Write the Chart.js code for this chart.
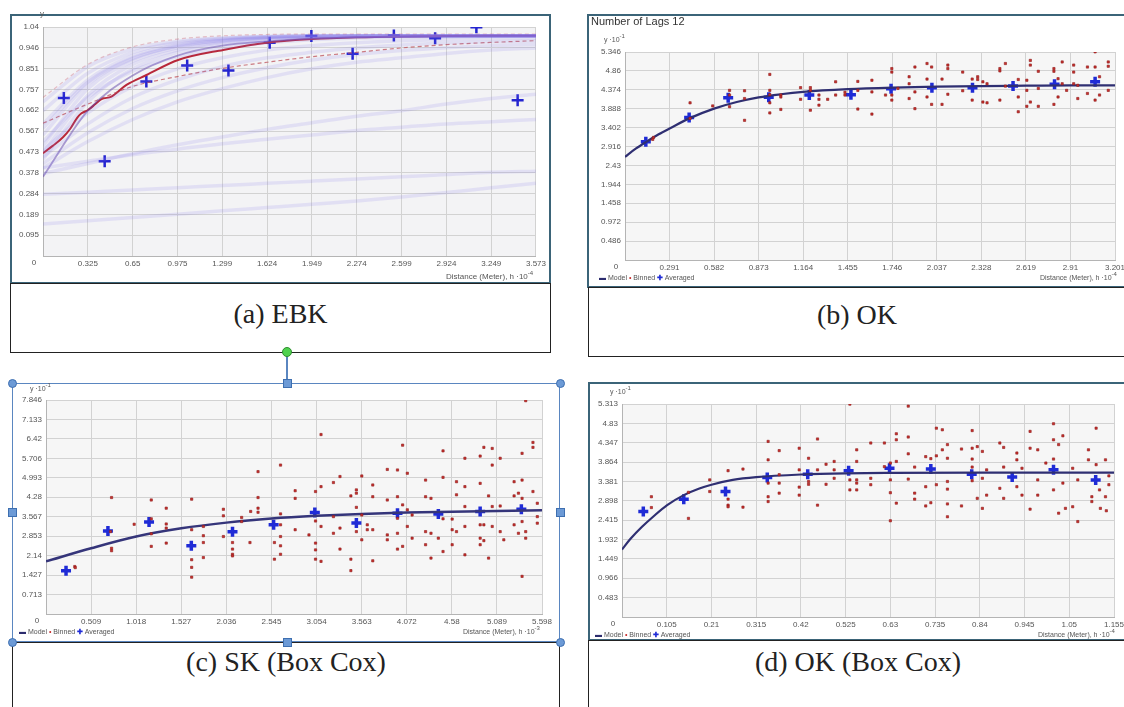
<!DOCTYPE html>
<html><head><meta charset="utf-8">
<script src="https://cdn.jsdelivr.net/npm/chart.js@4.4.1/dist/chart.umd.min.js"></script>
<style>
html,body{margin:0;padding:0;background:#fff;width:1124px;height:707px;overflow:hidden;position:relative;font-family:"Liberation Sans",Arial,sans-serif;}
canvas{position:absolute;}
.frame{position:absolute;box-sizing:border-box;border:2px solid #3b6478;}
.cap{position:absolute;box-sizing:border-box;border:1px solid #222;background:#fff;}
.capt{position:absolute;left:0;right:0;text-align:center;font-family:"Liberation Serif","Times New Roman",serif;font-size:28px;line-height:31px;color:#222;}
.lbl{position:absolute;font-size:8px;line-height:10px;color:#555;white-space:nowrap;}
.lbl sup{font-size:6px;vertical-align:4px;line-height:0;}
.title{position:absolute;font-size:11px;color:#333;white-space:nowrap;}
.hc{position:absolute;width:9px;height:9px;border-radius:50%;background:#6c9ad6;border:1px solid #3e6fb0;box-sizing:border-box;}
.hs{position:absolute;width:9px;height:9px;background:#6c9ad6;border:1px solid #3e6fb0;box-sizing:border-box;}
</style></head>
<body>
<!-- frames and captions -->
<div class="frame" style="left:10px;top:14px;width:541px;height:270px;"></div>
<div class="cap" style="left:10px;top:283px;width:541px;height:70px;"><div class="capt" style="top:14px;">(a) EBK</div></div>

<div class="frame" style="left:587px;top:14px;width:545px;height:274px;"></div>
<div class="cap" style="left:588px;top:287px;width:538px;height:70px;"><div class="capt" style="top:11px;">(b) OK</div></div>

<div style="position:absolute;left:12px;top:383px;width:548px;height:259px;box-sizing:border-box;border:1.5px solid #5a86c0;"></div>
<div class="cap" style="left:12px;top:642px;width:548px;height:80px;"><div class="capt" style="top:3px;">(c) SK (Box Cox)</div></div>

<div class="frame" style="left:588px;top:382px;width:545px;height:259px;"></div>
<div class="cap" style="left:588px;top:640px;width:540px;height:80px;"><div class="capt" style="top:5px;">(d) OK (Box Cox)</div></div>

<canvas id="cA"></canvas>
<canvas id="cB"></canvas>
<canvas id="cC"></canvas>
<canvas id="cD"></canvas>

<!-- overlay texts -->
<div class="lbl" style="left:40px;top:9px;">y</div>
<div class="lbl" style="left:446px;top:272px;">Distance (Meter), h ·10<sup>-4</sup></div>

<div class="title" style="left:591px;top:15px;">Number of Lags 12</div>
<div class="lbl" style="left:604px;top:35px;font-size:7px;">y ·10<sup>-1</sup></div>
<div class="lbl" style="left:599px;top:273px;font-size:7px;"><span style="color:#2c2c6e;font-weight:bold;">▬</span> Model <span style="color:#c62828;">•</span> Binned <span style="color:#1f2bd6;font-weight:bold;">✚</span> Averaged</div>
<div class="lbl" style="left:1040px;top:273px;font-size:7px;">Distance (Meter), h ·10<sup>-4</sup></div>

<div class="lbl" style="left:30px;top:384px;font-size:7px;">y ·10<sup>-1</sup></div>
<div class="lbl" style="left:19px;top:627px;font-size:7px;"><span style="color:#2c2c6e;font-weight:bold;">▬</span> Model <span style="color:#c62828;">•</span> Binned <span style="color:#1f2bd6;font-weight:bold;">✚</span> Averaged</div>
<div class="lbl" style="left:463px;top:627px;font-size:7px;">Distance (Meter), h ·10<sup>-3</sup></div>

<div class="lbl" style="left:610px;top:387px;font-size:7px;">y ·10<sup>-1</sup></div>
<div class="lbl" style="left:595px;top:630px;font-size:7px;"><span style="color:#2c2c6e;font-weight:bold;">▬</span> Model <span style="color:#c62828;">•</span> Binned <span style="color:#1f2bd6;font-weight:bold;">✚</span> Averaged</div>
<div class="lbl" style="left:1038px;top:630px;font-size:7px;">Distance (Meter), h ·10<sup>-4</sup></div>

<!-- selection handles -->
<div style="position:absolute;left:286px;top:356px;width:1.5px;height:24px;background:#5a86c0;"></div>
<div style="position:absolute;left:282px;top:347px;width:10px;height:10px;border-radius:50%;background:#4fd24f;border:1px solid #2f8f2f;box-sizing:border-box;"></div>
<div class="hc" style="left:8px;top:379px;"></div>
<div class="hc" style="left:556px;top:379px;"></div>
<div class="hc" style="left:8px;top:638px;"></div>
<div class="hc" style="left:556px;top:638px;"></div>
<div class="hs" style="left:283px;top:379px;"></div>
<div class="hs" style="left:8px;top:508px;"></div>
<div class="hs" style="left:556px;top:508px;"></div>
<div class="hs" style="left:283px;top:638px;"></div>

<script>
// ================= DATA =================
// (a) EBK
const ebkXTicks = ['0','0.325','0.65','0.975','1.299','1.624','1.949','2.274','2.599','2.924','3.249','3.573'];
const ebkYTicks = ['0','0.095','0.189','0.284','0.378','0.473','0.567','0.662','0.757','0.851','0.946','1.04'];
const ebkCurveX = [0,0.325,0.65,0.975,1.299,1.624,1.949,2.274,2.599,2.924,3.249,3.573];
const ebkSpectrum = [
  [0.70,0.86,0.94,0.975,0.99,0.997,1.0,1.0,1.0,1.0,1.0,1.0],
  [0.66,0.83,0.925,0.97,0.988,0.996,1.0,1.0,1.0,1.0,1.0,1.0],
  [0.60,0.80,0.91,0.96,0.985,0.995,0.999,1.0,1.0,1.0,1.0,1.0],
  [0.58,0.79,0.90,0.955,0.98,0.993,0.998,1.0,1.0,1.0,1.0,1.0],
  [0.55,0.78,0.895,0.952,0.978,0.991,0.997,0.999,1.0,1.0,1.0,1.0],
  [0.50,0.76,0.885,0.945,0.975,0.99,0.995,0.998,1.0,1.0,1.0,1.0],
  [0.47,0.73,0.87,0.935,0.97,0.985,0.993,0.997,0.999,1.0,1.0,1.0],
  [0.44,0.70,0.85,0.925,0.963,0.982,0.991,0.996,0.998,1.0,1.0,1.0],
  [0.52,0.72,0.84,0.905,0.945,0.968,0.982,0.99,0.994,0.996,0.998,0.999],
  [0.48,0.65,0.77,0.85,0.90,0.935,0.955,0.968,0.977,0.983,0.988,0.99],
  [0.45,0.60,0.72,0.80,0.86,0.90,0.925,0.945,0.958,0.967,0.973,0.977],
  [0.42,0.56,0.67,0.75,0.81,0.855,0.89,0.915,0.933,0.946,0.955,0.962],
  [0.40,0.52,0.62,0.70,0.76,0.81,0.85,0.88,0.90,0.92,0.935,0.945],
  [0.374,0.42,0.465,0.505,0.54,0.575,0.605,0.635,0.66,0.69,0.715,0.735],
  [0.40,0.43,0.46,0.485,0.51,0.53,0.55,0.57,0.585,0.60,0.61,0.62],
  [0.28,0.29,0.30,0.31,0.32,0.33,0.34,0.35,0.36,0.37,0.38,0.385],
  [0.145,0.16,0.175,0.19,0.205,0.22,0.235,0.25,0.268,0.288,0.31,0.33]
];
const ebkDarkCurveY = [0.36,0.66,0.82,0.91,0.955,0.975,0.987,0.993,0.996,0.998,0.999,1.0];
const ebkMedianX = [0,0.07,0.145,0.2,0.25,0.279,0.326,0.38,0.424,0.496,0.605,0.75,0.979,1.306,1.621,1.949,2.274,2.599,2.924,3.249,3.573];
const ebkMedianY = [0.467,0.50,0.539,0.58,0.63,0.648,0.663,0.69,0.712,0.724,0.777,0.822,0.890,0.936,0.969,0.985,0.993,0.997,0.999,1.0,1.0];
const ebkLowerY = [0.603,0.69,0.77,0.815,0.852,0.88,0.905,0.925,0.945,0.96,0.97,0.978];
const ebkUpperY = [0.72,0.87,0.95,0.985,1.0,1.006,1.008,1.008,1.008,1.008,1.008,1.008];
const ebkAvgX = [0.151,0.447,0.749,1.045,1.344,1.643,1.945,2.244,2.543,2.842,3.141,3.440];
const ebkAvgY = [0.717,0.430,0.793,0.865,0.842,0.968,0.999,0.918,1.001,0.989,1.039,0.707];

// (b) OK
const okXTicks = ['0','0.291','0.582','0.873','1.164','1.455','1.746','2.037','2.328','2.619','2.91','3.201'];
const okYTicks = ['0','0.486','0.972','1.458','1.944','2.43','2.916','3.402','3.888','4.374','4.86','5.346'];
const okModelX = [0,0.07,0.145,0.22,0.291,0.42,0.582,0.73,0.873,1.018,1.164,1.455,1.746,2.037,2.328,2.619,2.91,3.201];
const okModelY = [2.65,2.86,3.05,3.23,3.38,3.64,3.89,4.06,4.18,4.26,4.32,4.39,4.43,4.455,4.47,4.48,4.49,4.49];
const okAvgX = [0.136,0.419,0.674,0.939,1.204,1.476,1.738,2.005,2.270,2.535,2.806,3.071];
const okAvgY = [3.04,3.66,4.17,4.18,4.24,4.25,4.40,4.43,4.43,4.47,4.52,4.58];
const okBinned = [
 [0.186,3.15],[0.181,3.10],[0.425,4.04],[0.425,3.64],[0.573,3.96],[0.683,4.36],[0.683,4.24],[0.683,3.94],
 [0.781,4.35],[0.781,4.15],[0.781,3.59],[0.946,4.77],[0.946,4.36],[0.946,4.25],[0.946,4.04],[0.946,3.78],
 [1.018,4.24],[1.018,4.19],[1.018,3.87],[1.147,4.43],[1.147,4.13],[1.211,4.43],[1.211,4.36],[1.211,3.85],
 [1.267,4.24],[1.267,4.13],[1.267,3.98],[1.324,4.13],[1.376,4.58],[1.376,4.24],[1.437,4.24],[1.437,4.31],
 [1.521,4.59],[1.521,4.36],[1.521,3.88],[1.613,4.62],[1.613,4.32],[1.613,3.75],[1.702,4.24],[1.743,4.92],
 [1.743,4.83],[1.743,4.24],[1.743,4.11],[1.783,4.41],[1.856,4.71],[1.856,4.53],[1.856,4.15],[1.894,4.96],
 [1.894,4.32],[1.894,3.89],[1.973,5.05],[1.973,4.65],[1.973,4.19],[2.003,4.96],[2.003,4.00],[2.071,4.65],
 [2.071,4.00],[2.109,5.01],[2.109,4.92],[2.109,4.26],[2.206,4.83],[2.206,4.35],[2.268,4.65],[2.268,4.11],
 [2.304,4.71],[2.304,4.64],[2.338,4.58],[2.338,4.06],[2.365,4.53],[2.365,4.04],[2.449,4.92],[2.449,4.86],
 [2.449,4.11],[2.485,5.05],[2.485,4.47],[2.569,4.64],[2.569,4.19],[2.569,3.81],[2.625,4.62],[2.625,4.36],
 [2.625,3.95],[2.648,5.13],[2.648,5.01],[2.648,4.06],[2.700,4.85],[2.700,4.41],[2.700,3.95],[2.802,4.92],
 [2.802,4.85],[2.802,4.00],[2.829,4.66],[2.829,4.19],[2.856,5.09],[2.856,4.53],[2.885,4.36],[2.931,5.01],
 [2.931,4.83],[2.931,4.53],[2.958,4.49],[2.958,4.15],[3.021,4.96],[3.021,4.28],[3.071,5.35],[3.071,4.96],
 [3.071,4.11],[3.100,4.71],[3.100,4.24],[3.157,5.09],[3.157,4.98],[3.157,4.36]
];

// (c) SK (Box Cox)
const skXTicks = ['0','0.509','1.018','1.527','2.036','2.545','3.054','3.563','4.072','4.58','5.089','5.598'];
const skYTicks = ['0','0.713','1.427','2.14','2.853','3.567','4.28','4.993','5.706','6.42','7.133','7.846'];
const skModelX = [0,0.509,1.018,1.527,2.036,2.545,3.054,3.563,4.072,4.58,5.089,5.598];
const skModelY = [1.93,2.41,2.84,3.14,3.35,3.50,3.60,3.67,3.72,3.75,3.78,3.80];
const skAvgX = [0.226,0.699,1.163,1.640,2.105,2.569,3.034,3.503,3.967,4.428,4.900,5.365];
const skAvgY = [1.585,3.04,3.37,2.50,3.02,3.27,3.72,3.34,3.69,3.67,3.76,3.84];
const skBinned = [
 [0.325,1.74],[0.330,1.70],[0.740,4.27],[0.728,3.02],[0.740,2.41],[0.740,2.32],[0.995,3.29],[1.188,4.18],
 [1.188,3.49],[1.188,2.94],[1.188,2.48],[1.357,3.88],[1.357,3.30],[1.357,3.15],[1.357,2.60],[1.644,4.21],
 [1.644,3.09],[1.644,1.99],[1.644,1.71],[1.644,1.35],[1.776,3.21],[1.776,2.87],[1.776,2.62],[1.776,2.07],
 [2.002,3.84],[2.002,3.60],[2.002,2.84],[2.105,2.62],[2.105,2.38],[2.105,2.19],[2.105,2.13],[2.208,3.54],
 [2.208,3.39],[2.302,2.62],[2.310,3.76],[2.393,5.22],[2.393,4.27],[2.393,3.88],[2.393,3.73],[2.578,2.62],
 [2.578,2.01],[2.647,5.46],[2.647,3.67],[2.647,3.27],[2.647,2.84],[2.647,2.50],[2.647,2.19],[2.812,4.52],
 [2.812,4.24],[2.812,3.09],[2.968,2.90],[3.042,4.49],[3.042,3.41],[3.042,2.60],[3.042,2.35],[3.042,2.01],
 [3.104,6.58],[3.104,4.67],[3.104,3.21],[3.104,1.93],[3.244,4.82],[3.244,3.57],[3.244,2.96],[3.318,5.04],
 [3.318,3.15],[3.318,2.38],[3.441,4.33],[3.441,2.01],[3.441,1.59],[3.503,4.55],[3.503,4.43],[3.503,3.91],
 [3.503,3.02],[3.564,5.06],[3.564,3.63],[3.564,2.72],[3.626,3.27],[3.626,3.09],[3.688,4.73],[3.688,4.30],
 [3.688,3.09],[3.688,1.95],[3.852,5.30],[3.852,4.18],[3.852,2.90],[3.852,2.72],[3.967,5.28],[3.967,4.30],
 [3.967,3.51],[3.967,2.96],[3.967,2.38],[4.025,6.19],[4.025,4.00],[4.025,2.48],[4.078,5.16],[4.078,3.82],
 [4.078,3.21],[4.132,3.63],[4.132,2.78],[4.284,4.91],[4.284,4.30],[4.284,3.02],[4.284,2.54],[4.345,4.24],
 [4.345,2.96],[4.345,2.05],[4.428,2.78],[4.481,5.98],[4.481,5.01],[4.481,3.49],[4.481,2.29],[4.584,3.48],
 [4.584,3.09],[4.584,2.54],[4.633,4.85],[4.633,4.37],[4.633,3.02],[4.728,5.71],[4.728,4.67],[4.728,3.94],
 [4.728,3.21],[4.728,2.17],[4.900,5.79],[4.900,4.79],[4.900,3.27],[4.900,2.78],[4.900,2.54],[4.942,6.11],
 [4.942,3.27],[4.942,2.69],[4.995,4.33],[4.995,2.05],[5.036,6.07],[5.036,5.46],[5.036,3.94],[5.036,3.21],
 [5.126,5.71],[5.126,3.96],[5.126,3.02],[5.167,2.72],[5.283,4.85],[5.283,4.33],[5.283,3.27],[5.332,4.43],
 [5.332,2.96],[5.373,5.89],[5.373,4.91],[5.373,4.24],[5.373,3.39],[5.373,1.38],[5.414,7.82],[5.414,3.02],
 [5.414,2.78],[5.496,6.29],[5.496,6.11],[5.496,4.49],[5.545,4.06],[5.545,3.57],[5.545,3.33]
];

// (d) OK (Box Cox)
const obXTicks = ['0','0.105','0.21','0.315','0.42','0.525','0.63','0.735','0.84','0.945','1.05','1.155'];
const obYTicks = ['0','0.483','0.966','1.449','1.932','2.415','2.898','3.381','3.864','4.347','4.83','5.313'];
const obModelX = [0,0.02,0.047,0.075,0.106,0.145,0.18,0.21,0.26,0.315,0.42,0.525,0.63,0.84,1.05,1.155];
const obModelY = [1.685,1.95,2.25,2.52,2.79,3.04,3.20,3.30,3.42,3.49,3.555,3.585,3.595,3.60,3.60,3.60];
const obAvgX = [0.050,0.145,0.243,0.341,0.436,0.532,0.628,0.725,0.821,0.916,1.013,1.112];
const obAvgY = [2.63,2.94,3.13,3.48,3.56,3.65,3.71,3.69,3.56,3.49,3.67,3.42];
const obBinned = [
 [0.069,3.00],[0.069,2.73],[0.156,3.11],[0.156,2.46],[0.206,3.42],[0.206,3.13],[0.249,3.65],[0.249,2.94],
 [0.249,2.79],[0.249,2.75],[0.284,3.69],[0.284,2.74],[0.343,4.38],[0.343,3.92],[0.343,3.34],[0.343,3.00],
 [0.343,2.88],[0.369,4.15],[0.369,3.55],[0.369,3.34],[0.369,3.09],[0.416,4.21],[0.416,3.67],[0.416,3.24],
 [0.416,3.04],[0.438,3.96],[0.438,3.38],[0.438,3.31],[0.459,4.44],[0.459,3.67],[0.459,2.79],[0.479,3.81],
 [0.479,3.31],[0.498,3.88],[0.498,3.67],[0.498,3.46],[0.535,5.31],[0.535,3.42],[0.535,3.17],[0.551,4.17],
 [0.551,3.88],[0.551,3.42],[0.551,3.34],[0.551,3.17],[0.584,4.34],[0.584,3.46],[0.584,3.30],[0.616,4.34],
 [0.616,3.75],[0.630,3.84],[0.630,3.42],[0.630,3.10],[0.630,2.40],[0.644,4.57],[0.644,4.42],[0.644,3.88],
 [0.644,2.84],[0.672,5.26],[0.672,4.49],[0.672,4.07],[0.672,3.44],[0.687,3.74],[0.687,3.09],[0.687,2.94],
 [0.713,4.00],[0.713,3.25],[0.713,2.77],[0.725,3.95],[0.725,2.85],[0.738,4.71],[0.738,4.02],[0.738,3.30],
 [0.752,4.67],[0.752,4.17],[0.764,4.30],[0.764,3.96],[0.764,3.38],[0.764,3.19],[0.764,2.82],[0.764,2.50],
 [0.797,4.19],[0.797,2.77],[0.822,4.65],[0.822,4.21],[0.822,3.94],[0.822,3.74],[0.822,3.40],[0.834,4.25],
 [0.834,2.96],[0.846,4.13],[0.846,3.46],[0.846,2.71],[0.856,3.67],[0.856,3.04],[0.887,4.34],[0.887,3.21],
 [0.896,4.23],[0.896,3.74],[0.896,2.96],[0.927,4.09],[0.927,3.92],[0.927,3.25],[0.939,3.71],[0.939,3.04],
 [0.958,4.63],[0.958,4.21],[0.958,2.69],[0.976,4.17],[0.976,3.42],[0.976,3.04],[0.995,3.84],[1.013,4.82],
 [1.013,4.42],[1.013,3.94],[1.013,3.17],[1.025,4.30],[1.025,2.59],[1.035,4.52],[1.035,3.34],[1.041,2.71],
 [1.058,3.71],[1.058,2.75],[1.070,3.42],[1.070,2.38],[1.095,4.17],[1.095,3.92],[1.103,3.00],[1.103,2.88],
 [1.113,4.71],[1.113,3.80],[1.121,3.17],[1.123,2.71],[1.135,3.92],[1.135,3.00],[1.137,2.65],[1.143,3.52],
 [1.143,3.30]
];

// ================= HELPERS =================
const zip = (xs, ys) => xs.map((x, i) => ({x, y: ys[i]}));
const pairs = arr => arr.map(p => ({x: p[0], y: p[1]}));
const TICK_FONT = {family: "'Liberation Sans', Arial, sans-serif", size: 8};

const plotDecor = {
  id: 'plotDecor',
  beforeDraw(chart) {
    const {ctx, chartArea: a} = chart;
    ctx.save();
    ctx.fillStyle = chart.options.plugins.plotDecor.bg;
    ctx.fillRect(a.left, a.top, a.right - a.left, a.bottom - a.top);
    ctx.restore();
  },
  afterDraw(chart) {
    const {ctx, chartArea: a} = chart;
    ctx.save();
    ctx.font = "8px 'Liberation Sans', Arial, sans-serif";
    ctx.fillStyle = '#555';
    ctx.textAlign = 'center';
    ctx.textBaseline = 'top';
    ctx.fillText('0', a.left - 9, a.bottom + 3);
    ctx.restore();
  }
};

function makeChart(id, box, plot, xt, yt, datasets, bg) {
  const cv = document.getElementById(id);
  cv.width = box.w; cv.height = box.h;
  cv.style.left = box.x + 'px'; cv.style.top = box.y + 'px';
  cv.style.width = box.w + 'px'; cv.style.height = box.h + 'px';
  const YW = 30, XH = 12;
  return new Chart(cv, {
    type: 'scatter',
    data: {datasets},
    plugins: [plotDecor],
    options: {
      responsive: false, animation: false, devicePixelRatio: 1,
      layout: {padding: {
        left: plot.l - box.x - YW, right: box.x + box.w - plot.r,
        top: plot.t - box.y, bottom: box.y + box.h - plot.b - XH}},
      plugins: {legend: {display: false}, tooltip: {enabled: false}, plotDecor: {bg: bg}},
      scales: {
        x: {type: 'linear', min: +xt[0], max: +xt[xt.length - 1],
          afterBuildTicks: s => { s.ticks = xt.map(v => ({value: +v})); },
          afterFit: s => { s.height = XH; },
          ticks: {callback: (v, i) => i === 0 ? '' : xt[i], font: TICK_FONT, color: '#555', padding: 3, maxRotation: 0, autoSkip: false},
          grid: {color: '#d2d2d2', drawTicks: false}, border: {color: '#b4b4b4'}},
        y: {type: 'linear', min: +yt[0], max: +yt[yt.length - 1],
          afterBuildTicks: s => { s.ticks = yt.map(v => ({value: +v})); },
          afterFit: s => { s.width = YW; },
          ticks: {callback: (v, i) => i === 0 ? '' : yt[i], font: TICK_FONT, color: '#555', padding: 4, autoSkip: false},
          grid: {color: '#d2d2d2', drawTicks: false}, border: {color: '#b4b4b4'}}
      }
    }
  });
}

function lineDS(data, color, width, extra) {
  return Object.assign({data, showLine: true, borderColor: color, borderWidth: width,
    pointRadius: 0, fill: false, tension: 0.4, cubicInterpolationMode: 'monotone'}, extra || {});
}
function crossDS(data, r, w, color) {
  return {data, showLine: false, pointStyle: 'cross', pointRadius: r, pointBorderWidth: w,
    borderColor: color, backgroundColor: color, borderWidth: w};
}
function binDS(data) {
  return {data, showLine: false, pointStyle: 'rect', pointRadius: 1.6,
    backgroundColor: '#c9302c', borderColor: '#8e1b1b', borderWidth: 0.6};
}

// ================= (a) EBK =================
const ebkSets = [];
ebkSpectrum.forEach(ys => ebkSets.push(lineDS(zip(ebkCurveX, ys), 'rgba(130,115,235,0.15)', 3.5)));
ebkSets.push(lineDS(zip(ebkCurveX, ebkDarkCurveY), 'rgba(95,65,170,0.5)', 1.8));
ebkSets.push(lineDS(zip(ebkCurveX, ebkUpperY), 'rgba(200,90,110,0.35)', 1.2, {borderDash: [4, 3]}));
ebkSets.push(lineDS(zip(ebkCurveX, ebkLowerY), 'rgba(190,80,90,0.75)', 1.2, {borderDash: [4, 3]}));
ebkSets.push(lineDS(zip(ebkMedianX, ebkMedianY), '#b8283a', 2));
ebkSets.push(crossDS(zip(ebkAvgX, ebkAvgY), 6, 2.5, '#2424d0'));
makeChart('cA', {x: 12, y: 16, w: 537, h: 266}, {l: 43, r: 536, t: 27, b: 256},
  ebkXTicks, ebkYTicks, ebkSets, '#f3f3f5');

// ================= (b) OK =================
makeChart('cB', {x: 589, y: 16, w: 541, h: 270}, {l: 625, r: 1115, t: 52, b: 260},
  okXTicks, okYTicks, [
    binDS(pairs(okBinned)),
    lineDS(zip(okModelX, okModelY), '#2f2f72', 2.2),
    crossDS(zip(okAvgX, okAvgY), 5, 3.5, '#1f2bd6')
  ], '#f6f6f6');

// ================= (c) SK Box Cox =================
makeChart('cC', {x: 14, y: 385, w: 544, h: 255}, {l: 46, r: 542, t: 400, b: 614},
  skXTicks, skYTicks, [
    binDS(pairs(skBinned)),
    lineDS(zip(skModelX, skModelY), '#35357a', 2.5),
    crossDS(zip(skAvgX, skAvgY), 5, 3.5, '#1f2bd6')
  ], '#f6f6f6');

// ================= (d) OK Box Cox =================
makeChart('cD', {x: 590, y: 384, w: 540, h: 255}, {l: 622, r: 1114, t: 404, b: 617},
  obXTicks, obYTicks, [
    binDS(pairs(obBinned)),
    lineDS(zip(obModelX, obModelY), '#2f2f72', 2.2),
    crossDS(zip(obAvgX, obAvgY), 5, 3.5, '#1f2bd6')
  ], '#f6f6f6');
</script>
</body></html>
